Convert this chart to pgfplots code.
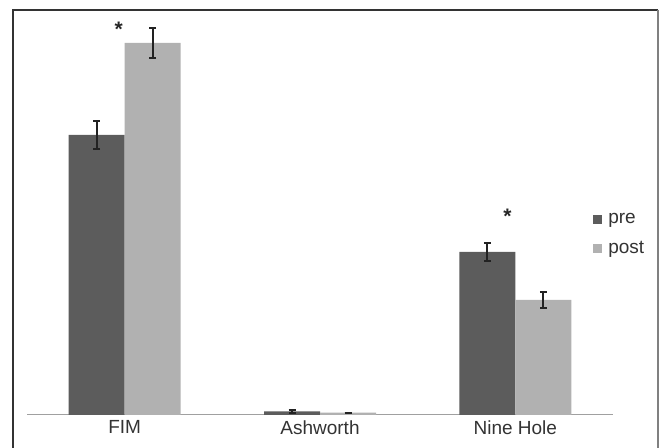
\documentclass[border=0pt]{standalone}
\usepackage{pgfplots}
\pgfplotsset{compat=1.18}
\usepackage{fontspec}
\setmainfont{Liberation Sans}
\definecolor{preC}{HTML}{5C5C5C}
\definecolor{postC}{HTML}{B1B1B1}
\definecolor{axC}{HTML}{A0A0A0}
\definecolor{txtC}{HTML}{333333}
\definecolor{errC}{HTML}{222222}
\begin{document}
\begin{tikzpicture}
\useasboundingbox (0,0) rectangle (659bp,448bp);
\draw[color=txtC, line width=1.3bp] (13bp,0) -- (13bp,438bp) -- (658bp,438bp);
\draw[color=gray, line width=1.3bp] (658bp,438bp) -- (658bp,0);
\begin{axis}[
  at={(27bp,33bp)}, anchor=south west,
  scale only axis, width=586bp, height=405bp,
  xmin=-0.5, xmax=2.5, ymin=0, ymax=115.71,
  axis y line=none, axis x line=bottom,
  x axis line style={-, color=axC, line width=1bp},
  ybar=0pt, bar width=56bp,
  xtick={0,1,2}, xticklabels={FIM,Ashworth,Nine Hole},
  major x tick style={draw=none},
  extra x ticks={-0.5,0.5,1.5,2.5}, extra x tick labels={},
  extra x tick style={tick align=outside, major tick length=4bp, tick style={color=axC, line width=1bp}},
  xticklabel style={font=\fontsize{19bp}{22bp}\selectfont, text=txtC, yshift=2bp},
  legend style={at={(0.966,0.503)}, anchor=north west, draw=none, fill=none,
    font=\fontsize{19bp}{22bp}\selectfont, text=txtC, row sep=12bp, inner sep=0pt},
  legend cell align=left,
  legend image code/.code={\fill[#1] (0bp,-4.5bp) rectangle (9bp,4.5bp); \path (13bp,0bp);},
  clip=false,
]
\addplot[fill=preC, draw=none, error bars/.cd, y dir=both, y explicit,
  error bar style={draw=errC, line width=2bp},
  error mark options={rotate=90, mark size=3.5bp, line width=2bp, draw=errC}]
  coordinates {(0,80.0) +- (0,4.1) (1,1.0) +- (0,0.3) (2,46.6) +- (0,2.5)};
\addplot[fill=postC, draw=none, error bars/.cd, y dir=both, y explicit,
  error bar style={draw=errC, line width=2bp},
  error mark options={rotate=90, mark size=3.5bp, line width=2bp, draw=errC}]
  coordinates {(0,106.3) +- (0,4.3) (1,0.7) +- (0,0) (2,32.9) +- (0,2.2)};
\legend{pre,post}
\node[font=\bfseries\fontsize{21bp}{24bp}\selectfont, text=black!85] at (axis cs:-0.03,110.2) {*};
\node[font=\bfseries\fontsize{21bp}{24bp}\selectfont, text=black!85] at (axis cs:1.96,56.7) {*};
\end{axis}
\end{tikzpicture}
\end{document}
